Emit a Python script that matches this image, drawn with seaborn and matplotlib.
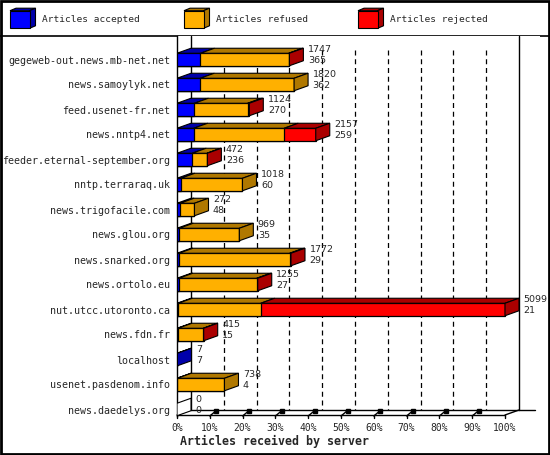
import matplotlib
matplotlib.use("Agg")
import numpy as np
import pandas as pd
import matplotlib.pyplot as plt
from matplotlib.patches import Polygon, Rectangle
from matplotlib.lines import Line2D
import seaborn as sns

# data
servers = ["gegeweb-out.news.mb-net.net", "news.samoylyk.net", "feed.usenet-fr.net",
           "news.nntp4.net", "feeder.eternal-september.org", "nntp.terraraq.uk",
           "news.trigofacile.com", "news.glou.org", "news.snarked.org", "news.ortolo.eu",
           "nut.utcc.utoronto.ca", "news.fdn.fr", "localhost", "usenet.pasdenom.info",
           "news.daedelys.org"]
total = [1747, 1820, 1124, 2157, 472, 1018, 272, 969, 1772, 1255, 5099, 415, 7, 738, 0]
accepted = [365, 362, 270, 259, 236, 60, 48, 35, 29, 27, 21, 15, 7, 4, 0]
refused = [1372, 1458, 829, 1407, 230, 958, 224, 934, 1723, 1213, 1280, 395, 0, 734, 0]
rejected = [10, 0, 25, 491, 6, 0, 0, 0, 20, 15, 3798, 5, 0, 0, 0]
pct_ticks = [0, 10, 20, 30, 40, 50, 60, 70, 80, 90, 100]

series = ["Articles accepted", "Articles refused", "Articles rejected"]
front_col = ["#0000FF", "#FFB000", "#FF0000"]
side_col = ["#0000AA", "#B07800", "#AA0000"]

sns.set_theme(style="white")
plt.rcParams["font.family"] = ["DejaVu Sans Mono"]

W, H = 550, 455
fig = plt.figure(figsize=(W / 100, H / 100), dpi=100)
fig.patch.set_facecolor("white")

# pixel layout of the plot box
left_px, right_px, top_px, bot_px = 177, 540, 36, 416
y0_px, step_px = 59.5, 25.0
vmax = max(total)
ppv = 328.0 / vmax  # pixels per article
ax = fig.add_axes([left_px / W, 1 - bot_px / H, (right_px - left_px) / W, (bot_px - top_px) / H])

df = pd.DataFrame({"server": servers, "total": total,
                   "acc_ref": np.array(accepted) + np.array(refused),
                   "accepted": accepted})

# front faces, layered
for col, c in zip(["total", "acc_ref", "accepted"], front_col[::-1]):
    sns.barplot(data=df, x=col, y="server", orient="h", color=c, saturation=1,
                width=0.5, edgecolor="black", linewidth=0.9, errorbar=None, ax=ax, zorder=3)

ax.set_xlim(0, (right_px - left_px) / ppv)
ax.set_ylim((bot_px - y0_px) / step_px, -(y0_px - top_px) / step_px)

DX = 14 / ppv
DY = -5 / step_px
hw = 0.25

# 3D top and side faces
for i in range(len(servers)):
    bounds = [0, accepted[i], accepted[i] + refused[i], total[i]]
    top = i - hw
    last = None
    for k in range(3):
        a, b = bounds[k], bounds[k + 1]
        if b > a:
            ax.add_patch(Polygon([(a, top), (b, top), (b + DX, top + DY), (a + DX, top + DY)],
                                 closed=True, facecolor=side_col[k], edgecolor="black",
                                 linewidth=0.8, zorder=4))
            last = k
    t = total[i]
    sc = side_col[last] if last is not None else "white"
    ax.add_patch(Polygon([(t, top), (t + DX, top + DY), (t + DX, i + hw + DY), (t, i + hw)],
                         closed=True, facecolor=sc, edgecolor="black", linewidth=0.8, zorder=4))
    ax.text(t + DX + 4.5 / ppv, i + DY * 0.9, f"{total[i]}\n{accepted[i]}",
            ha="left", va="center", fontsize=6.8, family="DejaVu Sans",
            linespacing=1.15, zorder=5)

# back wall grid and floor
y_top = ax.get_ylim()[1]
y_back = (410 - y0_px) / step_px
y_front = (415 - y0_px) / step_px
y_dash = (50 - y0_px) / step_px
for p in pct_ticks[1:-1]:
    ax.plot([p / 100 * vmax + DX] * 2, [y_dash, y_back], color="black", lw=0.9,
            ls=(0, (4, 3)), zorder=1)
for xw in [DX, vmax + DX]:
    ax.plot([xw, xw], [y_top, y_back], color="black", lw=1, zorder=1)
ax.plot([0, vmax], [y_front, y_front], color="black", lw=1, clip_on=False, zorder=2)
ax.plot([DX, (535 - left_px) / ppv], [y_back, y_back], color="black", lw=1,
        clip_on=False, zorder=2)
ax.plot([0, DX], [y_front, y_back], color="black", lw=1, clip_on=False, zorder=2)
ax.plot([vmax, vmax + DX], [y_front, y_back], color="black", lw=1, clip_on=False, zorder=2)
for p in pct_ticks:
    xp = p / 100 * vmax
    ax.plot([xp, xp], [y_front, y_front + 3 / step_px], color="black", lw=1, clip_on=False)
    if 0 < p < 100:
        ax.plot([xp, xp + 6 / ppv], [y_front + 1 / step_px, y_back + 1 / step_px],
                color="black", lw=1, clip_on=False)
        ax.plot([xp + 6.5 / ppv], [y_back + 0.5 / step_px], marker="s", ms=2.5,
                color="black", clip_on=False)
    ax.text(xp, (428 - y0_px) / step_px, f"{p}%", ha="center", va="center",
            fontsize=7, clip_on=False)

ax.set_xticks([])
ax.set_xlabel("")
ax.set_ylabel("")
ax.set_yticks(range(len(servers)))
ax.set_yticklabels(servers, fontsize=7.2)
ax.tick_params(axis="y", length=0, pad=5)
for s in ["top", "right", "bottom"]:
    ax.spines[s].set_visible(False)
ax.spines["left"].set_color("black")
ax.spines["left"].set_linewidth(1)
ax.set_facecolor("white")

fig.text(274 / W, 1 - 441 / H, "Articles received by server", ha="center", va="center",
         fontsize=8.4, fontweight="bold")

# legend strip
lax = fig.add_axes([0, 0, 1, 1], zorder=-1)
lax.set_xlim(0, W)
lax.set_ylim(H, 0)
lax.axis("off")
for x0, name, fc, sc in zip([10, 184, 358], series, front_col, side_col):
    lax.add_patch(Polygon([(x0, 10.7), (x0 + 6, 8.2), (x0 + 25.5, 8.2), (x0 + 19.5, 10.7)],
                          closed=True, facecolor=sc, edgecolor="black", lw=0.8))
    lax.add_patch(Polygon([(x0 + 19.5, 10.7), (x0 + 25.5, 8.2), (x0 + 25.5, 25.8), (x0 + 19.5, 28.3)],
                          closed=True, facecolor=sc, edgecolor="black", lw=0.8))
    lax.add_patch(Rectangle((x0, 10.7), 19.5, 17.6, facecolor=fc, edgecolor="black", lw=0.8))
    lax.text(x0 + 32.5, 19.5, name, ha="left", va="center", fontsize=6.8)
lax.plot([0, W], [35.5, 35.5], color="black", lw=1.2)
lax.add_patch(Rectangle((0.8, 0.8), W - 1.6, H - 1.6, facecolor="none", edgecolor="black", lw=2))

fig.savefig("out.png", dpi=100, facecolor="white")
